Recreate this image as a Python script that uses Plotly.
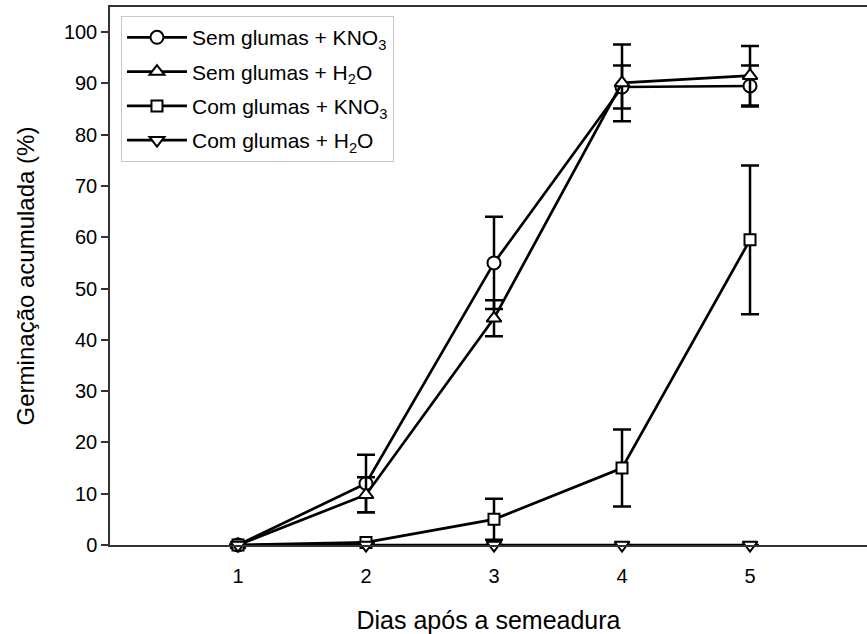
import plotly.graph_objects as go

days = [1, 2, 3, 4, 5]

sem_kno3 = [0, 12, 55, 89.3, 89.5]
sem_kno3_err = [0, 5.6, 9.0, 4.2, 4.0]

sem_h2o = [0, 9.8, 44.2, 90.1, 91.5]
sem_h2o_err = [0, 3.4, 3.5, 7.5, 5.8]

com_kno3 = [0, 0.5, 5.0, 15.0, 59.5]
com_kno3_err = [0, 0, 4.0, 7.5, 14.5]

com_h2o = [0, 0, 0, 0, 0]
com_h2o_err = [0, 0, 0, 0, 0]

names = [
    "Sem glumas + KNO<sub>3</sub>",
    "Sem glumas + H<sub>2</sub>O",
    "Com glumas + KNO<sub>3</sub>",
    "Com glumas + H<sub>2</sub>O",
]
x_ticks = [1, 2, 3, 4, 5]
y_ticks = list(range(0, 101, 10))

series = [
    (sem_kno3, sem_kno3_err, "circle", 13),
    (sem_h2o, sem_h2o_err, "triangle-up", 13),
    (com_kno3, com_kno3_err, "square", 11),
    (com_h2o, com_h2o_err, "triangle-down", 13),
]

FONT = "Liberation Sans, Arial, sans-serif"

fig = go.Figure()
for i, ((vals, errs, sym, sz), name) in enumerate(zip(series, names)):
    fig.add_trace(go.Scatter(
        x=days, y=vals, name=name, mode="lines+markers",
        line=dict(color="black", width=2.7),
        marker=dict(symbol=sym, size=sz, color="white",
                    line=dict(color="black", width=2)),
        error_y=dict(type="data", array=errs, visible=True,
                     color="black", thickness=2.5, width=9),
        cliponaxis=False,
        legendgroup=f"g{i}",
    ))

fig.update_layout(
    width=867, height=634,
    margin=dict(l=110, r=0, t=7, b=89),
    paper_bgcolor="white", plot_bgcolor="white",
    font=dict(family=FONT, size=20, color="black"),
    showlegend=True,
    legend=dict(
        x=0.0145, y=0.983, xanchor="left", yanchor="top",
        bgcolor="white", bordercolor="#c8c8c8", borderwidth=1,
        font=dict(family=FONT, size=21, color="black"),
        itemwidth=60,
        tracegroupgap=4,
    ),
    xaxis=dict(
        range=[0, 5.914], tickvals=x_ticks, ticktext=[str(v) for v in x_ticks],
        ticks="", showgrid=False, zeroline=False,
        showline=True, linecolor="#333333", linewidth=1.5, mirror=True,
        ticklabelstandoff=12,
        tickfont=dict(family=FONT, size=20, color="black"),
        title=dict(text="Dias após a semeadura", standoff=26,
                   font=dict(family=FONT, size=25, color="black")),
    ),
    yaxis=dict(
        range=[0, 104.9], tickvals=y_ticks,
        ticks="outside", ticklen=7, tickwidth=1.5, tickcolor="#333333",
        showgrid=False, zeroline=False,
        showline=True, linecolor="#333333", linewidth=1.5, mirror=False,
        tickfont=dict(family=FONT, size=20, color="black"),
        title=dict(text="Germinação acumulada (%)", standoff=22,
                   font=dict(family=FONT, size=24, color="black")),
    ),
)

fig.write_html("out.html")
